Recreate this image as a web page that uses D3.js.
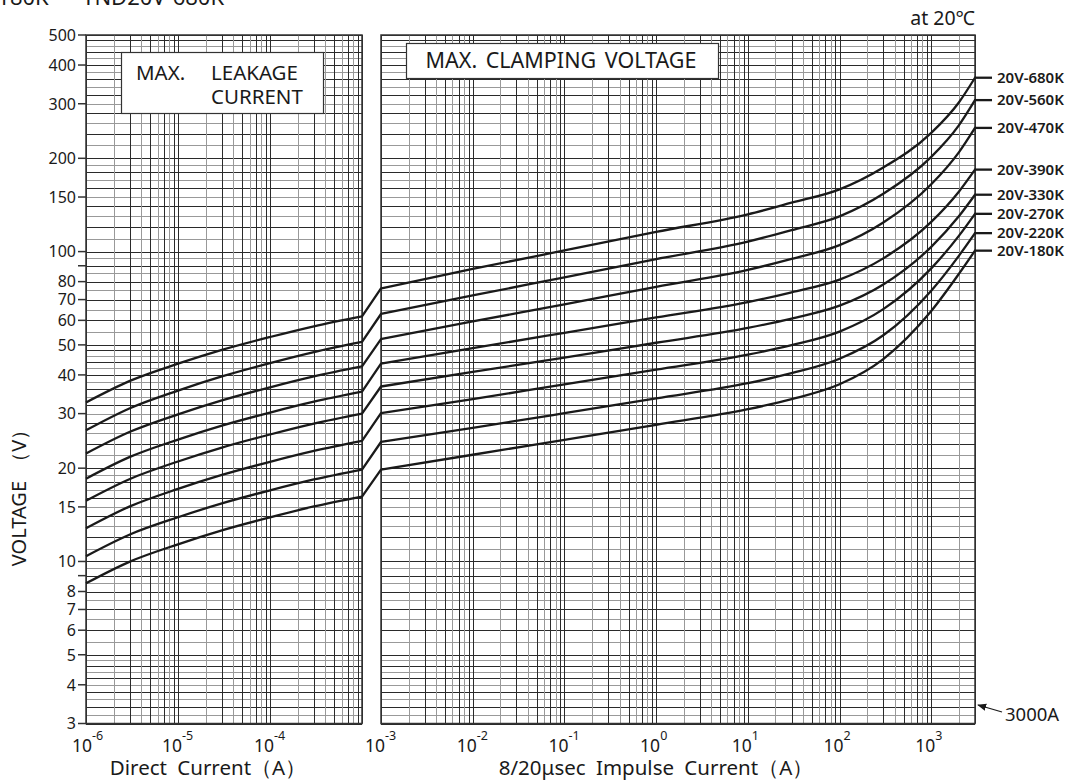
<!DOCTYPE html>
<html><head><meta charset="utf-8">
<script src="https://cdn.jsdelivr.net/npm/d3@7"></script>
<style>
html,body{margin:0;padding:0;background:#fff;}
svg{display:block;}
text{font-family:"Noto Sans","Open Sans",sans-serif;fill:#1a1a1a;}
</style></head>
<body><svg id="chart" width="1073" height="783"></svg>
<script>
// ---------- data ----------
const seriesNames = ["20V-180K","20V-220K","20V-270K","20V-330K","20V-390K","20V-470K","20V-560K","20V-680K"];
// DC leakage region (A)
const dcCurrent = [1e-6, 3e-6, 1e-5, 3e-5, 1e-4, 3e-4, 1e-3];
const leak180 = [8.5, 9.99, 11.36, 12.60, 13.88, 15.05, 16.2];
const leak220 = [10.4, 12.22, 13.89, 15.40, 16.96, 18.39, 19.8];
const leak270 = [12.8, 15.06, 17.15, 19.02, 20.97, 22.74, 24.5];
const leak330 = [15.7, 18.46, 21.02, 23.31, 25.69, 27.85, 30.0];
const leak390 = [18.5, 21.75, 24.74, 27.44, 30.23, 32.77, 35.3];
const leak470 = [22.3, 26.21, 29.84, 33.11, 36.47, 39.55, 42.6];
const leak560 = [26.5, 31.22, 35.60, 39.55, 43.65, 47.38, 51.1];
const leak680 = [32.6, 38.26, 43.47, 48.17, 53.01, 57.42, 61.8];
// 8/20us impulse clamping region (A)
const impCurrent = [1e-3, 1e-2, 1e-1, 1, 10, 30, 100, 300, 1000, 2000, 3000];
const clamp180 = [19.8, 22.1, 24.7, 27.6, 31.0, 33.4, 37.3, 45.0, 64.3, 84.7, 100.7];
const clamp220 = [24.3, 27.0, 30.1, 33.6, 37.6, 40.5, 45.1, 53.7, 74.8, 96.9, 114.7];
const clamp270 = [30.1, 33.4, 37.3, 41.6, 46.5, 49.9, 55.2, 65.2, 88.3, 112.4, 132.4];
const clamp330 = [36.7, 40.9, 45.5, 50.8, 56.7, 60.8, 66.9, 78.3, 103.6, 130.0, 152.6];
const clamp390 = [43.5, 48.8, 54.7, 61.3, 68.7, 73.9, 81.2, 95.1, 124.7, 156.1, 183.9];
const clamp470 = [52.2, 59.5, 67.6, 77.0, 87.3, 94.7, 104.9, 124.1, 164.9, 209.1, 250.7];
const clamp560 = [62.9, 72.2, 82.6, 94.6, 107.7, 117.3, 129.9, 153.6, 202.1, 255.6, 308.2];
const clamp680 = [76.1, 87.9, 100.9, 115.8, 131.9, 143.8, 158.8, 186.8, 241.6, 302.9, 364.0];
const leakSeries = [leak180, leak220, leak270, leak330, leak390, leak470, leak560, leak680];
const clampSeries = [clamp180, clamp220, clamp270, clamp330, clamp390, clamp470, clamp560, clamp680];
// tick labels
const yTickValues = [3,4,5,6,7,8,10,15,20,30,40,50,60,70,80,100,150,200,300,400,500];
const yMinorTicks = [9, 90];
const xLeftTicks = [{v:1e-6,e:"-6"},{v:1e-5,e:"-5"},{v:1e-4,e:"-4"}];
const xRightTicks = [{v:1e-3,e:"-3"},{v:1e-2,e:"-2"},{v:1e-1,e:"-1"},{v:1,e:"0"},{v:10,e:"1"},{v:100,e:"2"},{v:1000,e:"3"}];

// ---------- scales ----------
const svg = d3.select("#chart");
const y = d3.scaleLog().domain([3, 500]).range([723.5, 35]);
const xL = d3.scaleLog().domain([1e-6, 1e-3]).range([86, 362]);
const xR = d3.scaleLog().domain([1e-3, 3000]).range([381, 975]);

// grid values (horizontal)
const hGrid = [];
const segs = [[3,5,0.2],[5,10,0.5],[10,20,1],[20,50,2],[50,100,5],[100,200,10],[200,500,20]];
segs.forEach(([a,b,s]) => {
  const n = Math.round((b-a)/s);
  for (let i=0;i<n;i++) hGrid.push({v: a + i*s, dark: i%2===0});
});
hGrid.push({v:500, dark:true});

function vGrid(lo, hi){
  const out=[];
  for (let n=Math.floor(Math.log10(lo)); n<=Math.ceil(Math.log10(hi)); n++){
    for (let k=1;k<=9;k++){
      const v = k*Math.pow(10,n);
      if (v>=lo*0.999 && v<=hi*1.001) out.push({v, dark: k%2===1});
    }
  }
  return out;
}

const gridG = svg.append("g");
function drawPanel(xs, lo, hi){
  const [x0,x1] = xs.range();
  const g = gridG.append("g");
  g.selectAll("line.h").data(hGrid).join("line")
    .attr("x1",x0).attr("x2",x1)
    .attr("y1",d=>Math.round(y(d.v))+0.5).attr("y2",d=>Math.round(y(d.v))+0.5)
    .attr("stroke", d=>d.dark?"#2a2a2a":"#999").attr("stroke-width",1);
  g.selectAll("line.v").data(vGrid(lo,hi)).join("line")
    .attr("y1",y(500)).attr("y2",y(3))
    .attr("x1",d=>Math.round(xs(d.v))+0.5).attr("x2",d=>Math.round(xs(d.v))+0.5)
    .attr("stroke", d=>d.dark?"#2a2a2a":"#999").attr("stroke-width",1);
  g.append("rect").attr("x",x0).attr("y",y(500)).attr("width",x1-x0).attr("height",y(3)-y(500))
    .attr("fill","none").attr("stroke","#333").attr("stroke-width",1.5);
}
drawPanel(xL, 1e-6, 1e-3);
drawPanel(xR, 1e-3, 3000);

// y ticks
const axG = svg.append("g");
axG.selectAll("line.yt").data(yTickValues.concat(yMinorTicks)).join("line")
  .attr("x1",78).attr("x2",86).attr("y1",d=>y(d)).attr("y2",d=>y(d))
  .attr("stroke","#333").attr("stroke-width",1.5);
axG.selectAll("text.yl").data(yTickValues).join("text")
  .attr("x",76).attr("y",d=>y(d)).attr("dy","0.36em").attr("text-anchor","end")
  .attr("font-size",16).text(d=>d);

// x tick labels ("10" with superscript exponent)
function xLabels(ticks, xs){
  const g = axG.append("g");
  ticks.forEach(t=>{
    let xp = xs(t.v)+4;
    if (t.v===1e-6) xp = 92;
    const tx = g.append("text").attr("x",xp-20).attr("y",752).attr("font-size",17.5);
    tx.append("tspan").text("10");
    tx.append("tspan").attr("dy",-12).attr("font-size",12.5).text(t.e);
  });
}
xLabels(xLeftTicks, xL);
xLabels(xRightTicks, xR);

// curves
const line = d3.line().curve(d3.curveMonotoneX);
const curveG = svg.append("g");
seriesNames.forEach((name,i)=>{
  const lp = line(dcCurrent.map((c,j)=>[xL(c), y(leakSeries[i][j])]));
  const rp = line(impCurrent.map((c,j)=>[xR(c), y(clampSeries[i][j])]));
  curveG.append("path").attr("d", lp + "L" + rp.slice(1))
    .attr("fill","none").attr("stroke","#1a1a1a").attr("stroke-width",2.3).attr("stroke-linejoin","round");
  const ye = y(clampSeries[i][clampSeries[i].length-1]);
  curveG.append("line").attr("x1",974).attr("x2",992).attr("y1",ye).attr("y2",ye)
    .attr("stroke","#1a1a1a").attr("stroke-width",2.3);
  curveG.append("text").attr("x",997).attr("y",ye).attr("dy","0.35em")
    .attr("font-size",15).attr("font-weight",600).text(name);
});

// boxes
const boxG = svg.append("g");
boxG.append("rect").attr("x",121.5).attr("y",52.5).attr("width",202).attr("height",61)
  .attr("fill","#fff").attr("stroke","#333").attr("stroke-width",1.2);
boxG.append("text").attr("x",136).attr("y",80).attr("font-size",20.5).text("MAX.");
boxG.append("text").attr("x",211).attr("y",80).attr("font-size",20.5).text("LEAKAGE");
boxG.append("text").attr("x",211).attr("y",104).attr("font-size",20.5).text("CURRENT");
boxG.append("rect").attr("x",406.5).attr("y",43.5).attr("width",312).attr("height",35)
  .attr("fill","#fff").attr("stroke","#333").attr("stroke-width",1.2);
boxG.append("text").attr("x",561).attr("y",68).attr("text-anchor","middle").attr("font-size",21.5)
  .attr("word-spacing",3).text("MAX. CLAMPING VOLTAGE");

// titles
svg.append("text").attr("x",224).attr("y",5).attr("text-anchor","end").attr("font-size",22)
  .text("TND20V-180K ・ TND20V-680K");
svg.append("text").attr("x",975).attr("y",25).attr("text-anchor","end").attr("font-size",19.5).text("at 20℃");
svg.append("text").attr("transform","translate(26,493) rotate(-90)").attr("text-anchor","middle")
  .attr("font-size",20).attr("word-spacing",4).text("VOLTAGE （V）");
svg.append("text").attr("x",208).attr("y",775).attr("text-anchor","middle").attr("font-size",20.5)
  .attr("word-spacing",5).text("Direct Current（A）");
svg.append("text").attr("x",656).attr("y",775).attr("text-anchor","middle").attr("font-size",20.5)
  .attr("word-spacing",5).text("8/20μsec Impulse Current（A）");

// 3000A annotation
svg.append("defs").append("marker").attr("id","ah").attr("viewBox","0 0 10 10")
  .attr("refX",9).attr("refY",5).attr("markerWidth",7).attr("markerHeight",7).attr("orient","auto")
  .append("path").attr("d","M0,1 L10,5 L0,9 Z").attr("fill","#1a1a1a");
svg.append("line").attr("x1",1002).attr("y1",712).attr("x2",978).attr("y2",705)
  .attr("stroke","#1a1a1a").attr("stroke-width",1.3).attr("marker-end","url(#ah)");
svg.append("text").attr("x",1005).attr("y",721).attr("font-size",18.5).text("3000A");
</script></body></html>
